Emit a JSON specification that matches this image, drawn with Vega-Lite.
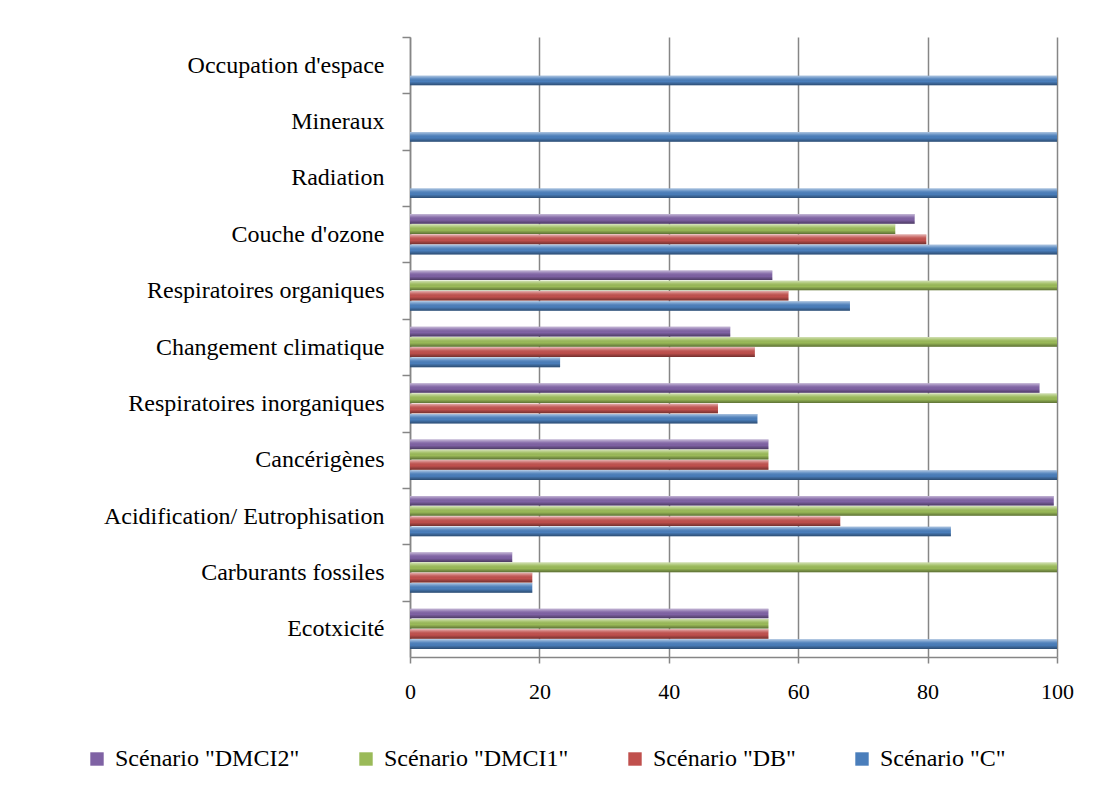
{
  "$schema": "https://vega.github.io/schema/vega-lite/v6.json",
  "autosize": {"type": "none"},
  "width": 647,
  "height": 620,
  "padding": {"left": 410, "top": 37, "right": 43, "bottom": 128},
  "background": "white",
  "config": {
    "view": {"stroke": null},
    "font": "Liberation Serif"
  },
  "data": {
    "values": [
      {"cat": "Occupation d'espace", "scen": "Scénario \"DMCI2\"", "v": 0},
      {"cat": "Occupation d'espace", "scen": "Scénario \"DMCI1\"", "v": 0},
      {"cat": "Occupation d'espace", "scen": "Scénario \"DB\"", "v": 0},
      {"cat": "Occupation d'espace", "scen": "Scénario \"C\"", "v": 100},
      {"cat": "Mineraux", "scen": "Scénario \"DMCI2\"", "v": 0},
      {"cat": "Mineraux", "scen": "Scénario \"DMCI1\"", "v": 0},
      {"cat": "Mineraux", "scen": "Scénario \"DB\"", "v": 0},
      {"cat": "Mineraux", "scen": "Scénario \"C\"", "v": 100},
      {"cat": "Radiation", "scen": "Scénario \"DMCI2\"", "v": 0},
      {"cat": "Radiation", "scen": "Scénario \"DMCI1\"", "v": 0},
      {"cat": "Radiation", "scen": "Scénario \"DB\"", "v": 0},
      {"cat": "Radiation", "scen": "Scénario \"C\"", "v": 100},
      {"cat": "Couche d'ozone", "scen": "Scénario \"DMCI2\"", "v": 78},
      {"cat": "Couche d'ozone", "scen": "Scénario \"DMCI1\"", "v": 75},
      {"cat": "Couche d'ozone", "scen": "Scénario \"DB\"", "v": 79.8},
      {"cat": "Couche d'ozone", "scen": "Scénario \"C\"", "v": 100},
      {"cat": "Respiratoires organiques", "scen": "Scénario \"DMCI2\"", "v": 56},
      {"cat": "Respiratoires organiques", "scen": "Scénario \"DMCI1\"", "v": 100},
      {"cat": "Respiratoires organiques", "scen": "Scénario \"DB\"", "v": 58.5},
      {"cat": "Respiratoires organiques", "scen": "Scénario \"C\"", "v": 68},
      {"cat": "Changement climatique", "scen": "Scénario \"DMCI2\"", "v": 49.5},
      {"cat": "Changement climatique", "scen": "Scénario \"DMCI1\"", "v": 100},
      {"cat": "Changement climatique", "scen": "Scénario \"DB\"", "v": 53.3},
      {"cat": "Changement climatique", "scen": "Scénario \"C\"", "v": 23.2},
      {"cat": "Respiratoires inorganiques", "scen": "Scénario \"DMCI2\"", "v": 97.3},
      {"cat": "Respiratoires inorganiques", "scen": "Scénario \"DMCI1\"", "v": 100},
      {"cat": "Respiratoires inorganiques", "scen": "Scénario \"DB\"", "v": 47.6},
      {"cat": "Respiratoires inorganiques", "scen": "Scénario \"C\"", "v": 53.7},
      {"cat": "Cancérigènes", "scen": "Scénario \"DMCI2\"", "v": 55.4},
      {"cat": "Cancérigènes", "scen": "Scénario \"DMCI1\"", "v": 55.4},
      {"cat": "Cancérigènes", "scen": "Scénario \"DB\"", "v": 55.4},
      {"cat": "Cancérigènes", "scen": "Scénario \"C\"", "v": 100},
      {"cat": "Acidification/ Eutrophisation", "scen": "Scénario \"DMCI2\"", "v": 99.5},
      {"cat": "Acidification/ Eutrophisation", "scen": "Scénario \"DMCI1\"", "v": 100},
      {"cat": "Acidification/ Eutrophisation", "scen": "Scénario \"DB\"", "v": 66.5},
      {"cat": "Acidification/ Eutrophisation", "scen": "Scénario \"C\"", "v": 83.6},
      {"cat": "Carburants fossiles", "scen": "Scénario \"DMCI2\"", "v": 15.8},
      {"cat": "Carburants fossiles", "scen": "Scénario \"DMCI1\"", "v": 100},
      {"cat": "Carburants fossiles", "scen": "Scénario \"DB\"", "v": 18.9},
      {"cat": "Carburants fossiles", "scen": "Scénario \"C\"", "v": 18.9},
      {"cat": "Ecotxicité", "scen": "Scénario \"DMCI2\"", "v": 55.4},
      {"cat": "Ecotxicité", "scen": "Scénario \"DMCI1\"", "v": 55.4},
      {"cat": "Ecotxicité", "scen": "Scénario \"DB\"", "v": 55.4},
      {"cat": "Ecotxicité", "scen": "Scénario \"C\"", "v": 100}
    ]
  },
  "encoding": {
    "y": {
      "field": "cat",
      "type": "nominal",
      "sort": ["Occupation d'espace", "Mineraux", "Radiation", "Couche d'ozone", "Respiratoires organiques", "Changement climatique", "Respiratoires inorganiques", "Cancérigènes", "Acidification/ Eutrophisation", "Carburants fossiles", "Ecotxicité"],
      "scale": {"paddingInner": 0, "paddingOuter": 0},
      "axis": {
        "title": null,
        "grid": false,
        "domainColor": "#868686",
        "domainWidth": 1.5,
        "tickColor": "#868686",
        "tickWidth": 1.5,
        "tickSize": 8,
        "tickOffset": -28.18,
        "labelOffset": 28.18,
        "labelPadding": 18,
        "labelFont": "Liberation Serif",
        "labelFontSize": 24,
        "labelColor": "#000000",
        "labelLimit": 400
      }
    },
    "yOffset": {
      "field": "scen",
      "type": "nominal",
      "sort": ["Scénario \"DMCI2\"", "Scénario \"DMCI1\"", "Scénario \"DB\"", "Scénario \"C\""],
      "scale": {"paddingInner": 0.06, "paddingOuter": 0.78}
    },
    "x": {
      "field": "v",
      "type": "quantitative",
      "scale": {"domain": [0, 100], "nice": false},
      "axis": {
        "title": null,
        "values": [0, 20, 40, 60, 80, 100],
        "grid": true,
        "gridColor": "#868686",
        "gridWidth": 1.5,
        "domainColor": "#868686",
        "domainWidth": 1.5,
        "tickColor": "#868686",
        "tickWidth": 1.5,
        "tickSize": 6,
        "labelPadding": 18,
        "labelFont": "Liberation Serif",
        "labelFontSize": 22,
        "labelColor": "#000000",
        "labelFlush": false
      }
    }
  },
  "layer": [
    {
      "mark": {"type": "bar"},
      "encoding": {
        "color": {
          "field": "scen",
          "type": "nominal",
          "sort": ["Scénario \"DMCI2\"", "Scénario \"DMCI1\"", "Scénario \"DB\"", "Scénario \"C\""],
          "scale": {
            "domain": ["Scénario \"DMCI2\"", "Scénario \"DMCI1\"", "Scénario \"DB\"", "Scénario \"C\""],
            "range": ["#7f62a4", "#9aba58", "#c0504d", "#4a7ebb"]
          },
          "legend": {
            "title": null,
            "orient": "none",
            "direction": "horizontal",
            "columns": 4,
            "legendX": -325,
            "legendY": 710,
            "symbolType": "square",
            "symbolSize": 180,
            "symbolStrokeWidth": 0,
            "labelFont": "Liberation Serif",
            "labelFontSize": 24,
            "labelColor": "#000000",
            "labelLimit": 400,
            "labelOffset": 6,
            "columnPadding": 54
          }
        }
      }
    },
    {
      "mark": {
        "type": "bar",
        "color": {
          "gradient": "linear", "x1": 0, "y1": 0, "x2": 0, "y2": 1,
          "stops": [
            {"offset": 0, "color": "rgba(255,255,255,0.55)"},
            {"offset": 0.3, "color": "rgba(255,255,255,0.12)"},
            {"offset": 0.6, "color": "rgba(0,0,0,0.0)"},
            {"offset": 1, "color": "rgba(0,0,0,0.4)"}
          ]
        }
      }
    }
  ]
}
